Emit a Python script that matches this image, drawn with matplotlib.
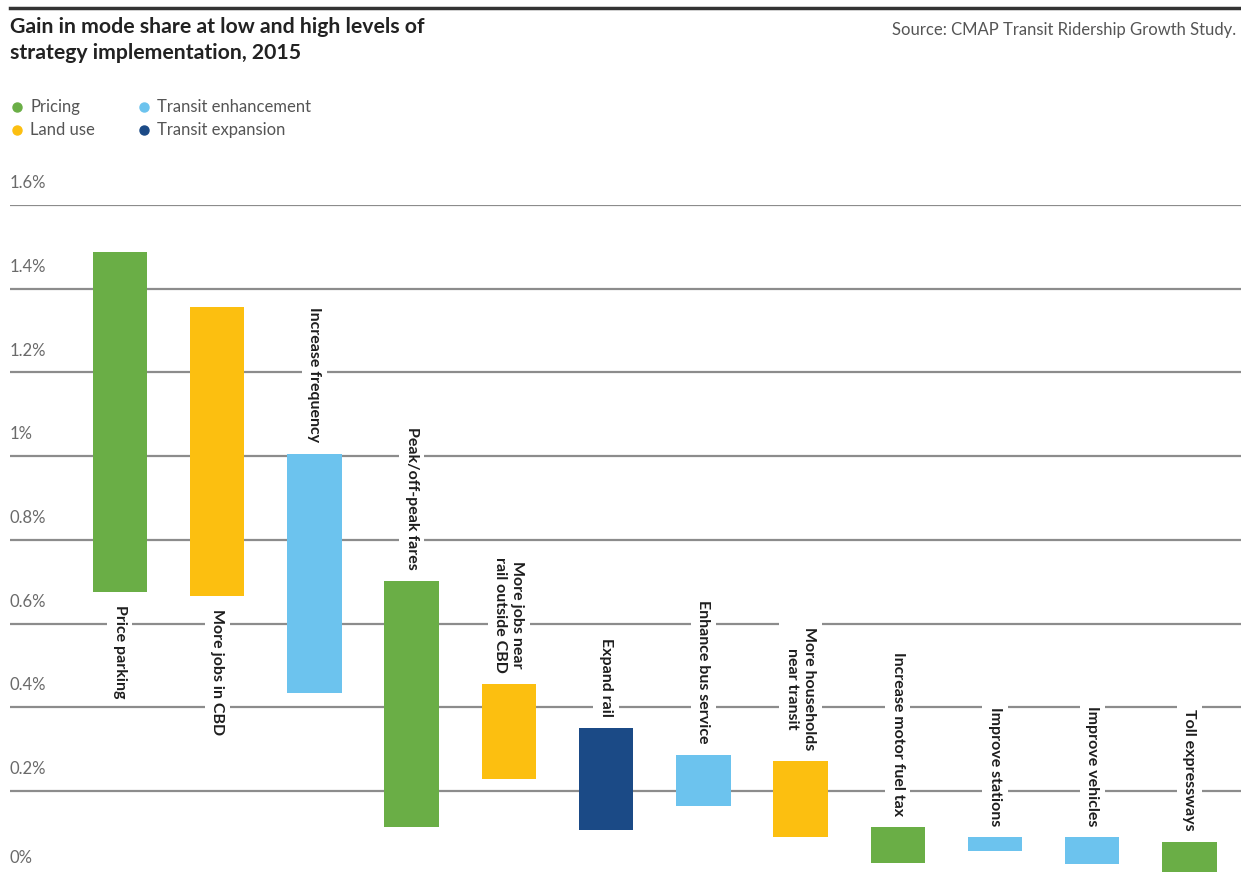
import matplotlib.pyplot as plt
import matplotlib.transforms as mtransforms
from matplotlib.lines import Line2D

# strategy names (line breaks as printed)
strategies = [
    "Price parking", "More jobs in CBD", "Increase frequency", "Peak/off-peak fares",
    "More jobs near\nrail outside CBD", "Expand rail", "Enhance bus service",
    "More households\nnear transit", "Increase motor fuel tax", "Improve stations",
    "Improve vehicles", "Toll expressways",
]
groups = [
    "Pricing", "Land use", "Transit enhancement", "Pricing",
    "Land use", "Transit expansion", "Transit enhancement",
    "Land use", "Pricing", "Transit enhancement",
    "Transit enhancement", "Pricing",
]
# gain in mode share (%) at low and high implementation
low = [0.675, 0.665, 0.435, 0.113, 0.228, 0.108, 0.165, 0.091, 0.029, 0.057, 0.026, 0.005]
high = [1.487, 1.356, 1.006, 0.702, 0.455, 0.350, 0.287, 0.271, 0.113, 0.089, 0.089, 0.079]
label_below = [True, True, False, False, False, False, False, False, False, False, False, False]

yticks = [0, 0.2, 0.4, 0.6, 0.8, 1.0, 1.2, 1.4, 1.6]
ytick_labels = ["0%", "0.2%", "0.4%", "0.6%", "0.8%", "1%", "1.2%", "1.4%", "1.6%"]

colors = {
    "Pricing": "#6aae46",
    "Land use": "#fcbf10",
    "Transit enhancement": "#6cc3ee",
    "Transit expansion": "#1b4a86",
}

plt.rcParams['font.family'] = ['Lato', 'DejaVu Sans']

W, H = 1241, 872
fig = plt.figure(figsize=(W / 100, H / 100), dpi=100)
ax = fig.add_axes([10 / W, 0, 1 - 10 / W, (H - 205) / H])
ax.set_xlim(-1.13, 11.53)
ax.set_ylim(0.0065, 1.6)
ax.axis('off')

# gridlines
for t in yticks[1:]:
    ax.axhline(t, color="#8c8c8c", lw=1.6, zorder=1)

# tick labels sit above each gridline
trans = mtransforms.blended_transform_factory(ax.transAxes, ax.transData)
for t, lab in zip(yticks, ytick_labels):
    ax.annotate(lab, (0, t), xycoords=trans, xytext=(0, 10 if t > 0 else 6),
                textcoords="offset points", ha="left", va="bottom",
                fontsize=12, color="#6a6a6a")

x = list(range(len(strategies)))
ax.bar(x, [h - l for h, l in zip(high, low)], bottom=low, width=0.56,
       color=[colors[g] for g in groups], zorder=3)

for xi, name, lo, hi, below in zip(x, strategies, low, high, label_below):
    if below:
        ax.annotate(name, (xi, lo), xytext=(0, -9), textcoords="offset points",
                    rotation=270, ha="center", va="top", fontsize=11.5,
                    fontweight="bold", color="#1e1e1e", zorder=4,
                    linespacing=1.3,
                    bbox=dict(boxstyle="square,pad=0.35", fc="white", ec="none"))
    else:
        ax.annotate(name, (xi, hi), xytext=(0, 8), textcoords="offset points",
                    rotation=270, ha="center", va="bottom", fontsize=11.5,
                    fontweight="bold", color="#1e1e1e", zorder=4,
                    linespacing=1.3,
                    bbox=dict(boxstyle="square,pad=0.35", fc="white", ec="none"))

# top rule, title and source
fig.add_artist(Line2D([10 / W, 1], [1 - 8 / H, 1 - 8 / H], color="#333333", lw=2.5))
fig.text(10 / W, 1 - 17 / H, "Gain in mode share at low and high levels of\nstrategy implementation, 2015",
         ha="left", va="top", fontsize=15.3, fontweight="bold", color="#222222", linespacing=1.4)
fig.text(1236 / W, 1 - 30 / H, "Source: CMAP Transit Ridership Growth Study.",
         ha="right", va="center", fontsize=12, color="#555555")

# legend
legend_items = [("Pricing", 17, 107), ("Land use", 17, 130),
                ("Transit enhancement", 144, 107), ("Transit expansion", 144, 130)]
for name, lx, ly in legend_items:
    fig.add_artist(Line2D([lx / W], [1 - ly / H], marker="o", ms=6.5, color=colors[name], lw=0))
    fig.text((lx + 13) / W, 1 - ly / H, name, ha="left", va="center", fontsize=12, color="#555555")

plt.savefig("out.png", dpi=100)
